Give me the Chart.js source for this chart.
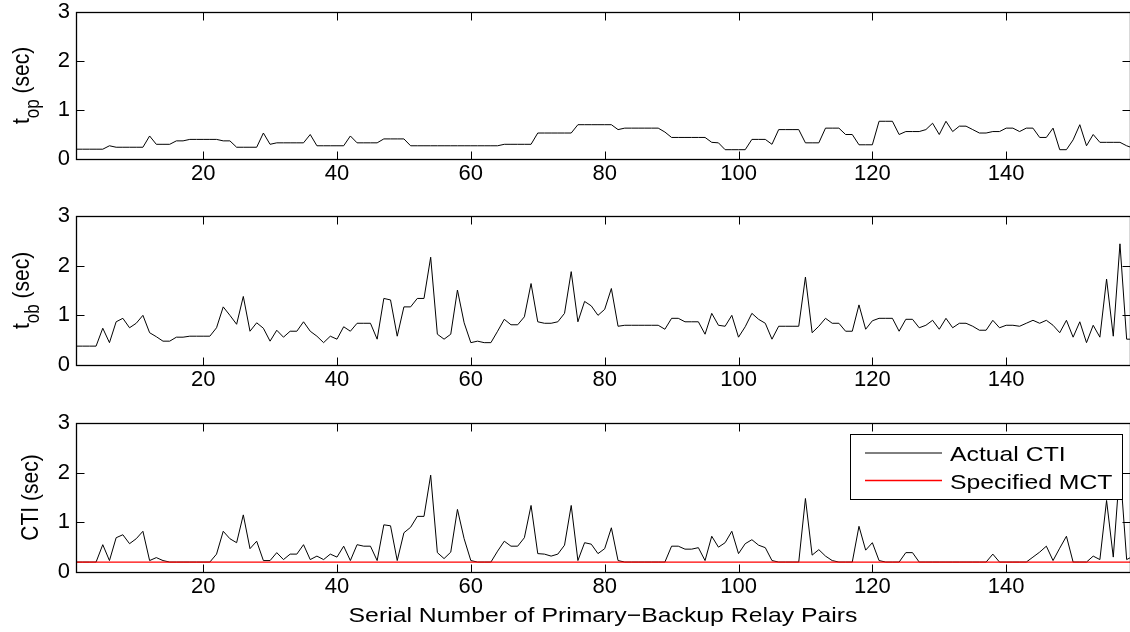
<!DOCTYPE html>
<html>
<head>
<meta charset="utf-8">
<script src="https://cdn.jsdelivr.net/npm/chart.js@4.4.0/dist/chart.umd.min.js"></script>
<style>
  html, body { margin: 0; padding: 0; background: #fff; overflow: hidden; }
  #wrap { position: relative; width: 1130px; height: 632px; overflow: hidden; }
  canvas { position: absolute; left: 0; }
</style>
</head>
<body>
<div id="wrap">
  <canvas id="cOp" width="1132" height="200" style="top:0px"></canvas>
  <canvas id="cOb" width="1132" height="205" style="top:200px"></canvas>
  <canvas id="cCti" width="1132" height="222" style="top:410px"></canvas>
</div>
<script>
// tick labels
const xTicks = [20, 40, 60, 80, 100, 120, 140];
const yTicks = [0, 1, 2, 3];

// operating time of primary relays (sec), pair 1..159
const tOp = [
  0.2, 0.2, 0.2, 0.2, 0.2, 0.27, 0.24, 0.24, 0.24, 0.24,
  0.24, 0.47, 0.3, 0.3, 0.3, 0.37, 0.37, 0.4, 0.4, 0.4,
  0.4, 0.4, 0.37, 0.37, 0.24, 0.24, 0.24, 0.24, 0.53, 0.3,
  0.33, 0.33, 0.33, 0.33, 0.33, 0.5, 0.27, 0.27, 0.27, 0.27,
  0.27, 0.47, 0.33, 0.33, 0.33, 0.33, 0.41, 0.41, 0.41, 0.41,
  0.27, 0.27, 0.27, 0.27, 0.27, 0.27, 0.27, 0.27, 0.27, 0.27,
  0.27, 0.27, 0.27, 0.27, 0.3, 0.3, 0.3, 0.3, 0.3, 0.53,
  0.53, 0.53, 0.53, 0.53, 0.53, 0.7, 0.7, 0.7, 0.7, 0.7,
  0.7, 0.6, 0.63, 0.63, 0.63, 0.63, 0.63, 0.63, 0.55, 0.44,
  0.44, 0.44, 0.44, 0.44, 0.44, 0.34, 0.33, 0.19, 0.19, 0.19,
  0.19, 0.4, 0.4, 0.4, 0.3, 0.6, 0.6, 0.6, 0.6, 0.33,
  0.33, 0.33, 0.63, 0.63, 0.63, 0.5, 0.5, 0.29, 0.29, 0.29,
  0.77, 0.77, 0.77, 0.5, 0.56, 0.56, 0.56, 0.6, 0.73, 0.5,
  0.77, 0.56, 0.67, 0.67, 0.6, 0.53, 0.53, 0.56, 0.56, 0.63,
  0.63, 0.56, 0.63, 0.63, 0.44, 0.44, 0.63, 0.19, 0.19, 0.39,
  0.7, 0.27, 0.5, 0.34, 0.34, 0.34, 0.34, 0.27, 0.22
];

// operating time of backup relays (sec)
const tOb = [
  0.38, 0.38, 0.38, 0.38, 0.74, 0.45, 0.87, 0.94, 0.75, 0.84,
  1.0, 0.65, 0.57, 0.48, 0.48, 0.56, 0.56, 0.58, 0.58, 0.58,
  0.58, 0.75, 1.17, 1.0, 0.82, 1.38, 0.68, 0.85, 0.74, 0.48,
  0.7, 0.56, 0.68, 0.68, 0.87, 0.68, 0.58, 0.45, 0.58, 0.52,
  0.77, 0.68, 0.84, 0.84, 0.84, 0.52, 1.34, 1.31, 0.58, 1.17,
  1.17, 1.34, 1.34, 2.17, 0.62, 0.52, 0.62, 1.51, 0.85, 0.45,
  0.48, 0.45, 0.45, 0.68, 0.92, 0.81, 0.81, 0.97, 1.64, 0.87,
  0.84, 0.84, 0.87, 1.04, 1.88, 0.87, 1.28, 1.19, 1.0, 1.12,
  1.54, 0.78, 0.8, 0.8, 0.8, 0.8, 0.8, 0.8, 0.72, 0.94,
  0.94, 0.87, 0.87, 0.87, 0.62, 1.04, 0.8, 0.78, 1.0, 0.56,
  0.77, 1.04, 0.92, 0.84, 0.52, 0.78, 0.78, 0.78, 0.78, 1.77,
  0.65, 0.78, 0.94, 0.84, 0.84, 0.68, 0.68, 1.21, 0.72, 0.89,
  0.94, 0.94, 0.94, 0.68, 0.92, 0.92, 0.75, 0.8, 0.9, 0.72,
  0.94, 0.75, 0.84, 0.84, 0.78, 0.7, 0.7, 0.9, 0.75, 0.8,
  0.8, 0.78, 0.84, 0.9, 0.84, 0.9, 0.8, 0.65, 0.9, 0.56,
  0.87, 0.45, 0.8, 0.56, 1.73, 0.58, 2.44, 0.52, 0.52
];

// coordination time interval (sec)
const cti = [
  0.2, 0.2, 0.2, 0.2, 0.55, 0.23, 0.69, 0.75, 0.57, 0.67,
  0.82, 0.23, 0.29, 0.23, 0.2, 0.2, 0.2, 0.2, 0.2, 0.2,
  0.2, 0.36, 0.82, 0.67, 0.59, 1.15, 0.47, 0.62, 0.23, 0.23,
  0.39, 0.25, 0.36, 0.36, 0.55, 0.25, 0.32, 0.25, 0.36, 0.3,
  0.52, 0.23, 0.55, 0.52, 0.52, 0.23, 0.95, 0.93, 0.23, 0.79,
  0.9, 1.12, 1.12, 1.95, 0.39, 0.27, 0.4, 1.26, 0.67, 0.23,
  0.2, 0.2, 0.2, 0.42, 0.62, 0.52, 0.52, 0.69, 1.34, 0.37,
  0.36, 0.32, 0.36, 0.54, 1.34, 0.23, 0.59, 0.56, 0.37, 0.47,
  0.89, 0.23, 0.2, 0.2, 0.2, 0.2, 0.2, 0.2, 0.2, 0.52,
  0.52, 0.46, 0.46, 0.49, 0.23, 0.72, 0.5, 0.59, 0.82, 0.37,
  0.57, 0.65, 0.54, 0.49, 0.23, 0.2, 0.2, 0.2, 0.2, 1.48,
  0.34, 0.45, 0.32, 0.23, 0.2, 0.2, 0.2, 0.92, 0.44, 0.59,
  0.23, 0.2, 0.2, 0.2, 0.39, 0.39, 0.2, 0.2, 0.2, 0.2,
  0.2, 0.2, 0.2, 0.2, 0.2, 0.2, 0.2, 0.36, 0.2, 0.2,
  0.2, 0.2, 0.2, 0.3, 0.4, 0.52, 0.23, 0.48, 0.72, 0.2,
  0.2, 0.2, 0.32, 0.25, 1.44, 0.3, 2.12, 0.25, 0.32
];

const mct = 0.2; // specified minimum coordination time

const FONT = "'Liberation Sans', Arial, Helvetica, sans-serif";
const X_MIN = 1, X_MAX = 158.5;
const STRETCH = 1.18; // the original export is a bit wide

const toPoints = arr => arr.map((v, i) => ({ x: i + 1, y: v }));

// matlab style box with inward ticks on all four sides
const matlabAxes = {
  id: 'matlabAxes',
  afterDatasetsDraw(chart) {
    const { ctx, chartArea: a, scales } = chart;
    const L = Math.round(a.left) + 0.5, R = Math.round(a.right) + 0.5;
    const T = Math.round(a.top) + 0.5, B = Math.round(a.bottom) + 0.5;
    ctx.save();
    ctx.strokeStyle = '#000';
    ctx.lineWidth = 1;
    ctx.beginPath();
    scales.x.ticks.forEach(t => {
      const px = Math.round(scales.x.getPixelForValue(t.value)) + 0.5;
      ctx.moveTo(px, B); ctx.lineTo(px, B - 8);
      ctx.moveTo(px, T); ctx.lineTo(px, T + 8);
    });
    scales.y.ticks.forEach(t => {
      const py = Math.round(scales.y.getPixelForValue(t.value)) + 0.5;
      ctx.moveTo(L, py); ctx.lineTo(L + 8, py);
      ctx.moveTo(R, py); ctx.lineTo(R - 8, py);
    });
    ctx.stroke();
    ctx.lineWidth = 1.3;
    ctx.strokeRect(L, T, R - L, B - T);
    ctx.restore();
  }
};

// rotated y label, optional subscript
const yTitle = {
  id: 'yTitle',
  afterDraw(chart, args, opts) {
    if (!opts || !opts.main) return;
    const { ctx, chartArea: a } = chart;
    const big = '21px ' + FONT, small = '17px ' + FONT;
    ctx.save();
    ctx.translate(opts.baseX, (a.top + a.bottom) / 2);
    ctx.scale(1.15, 1);
    ctx.rotate(-Math.PI / 2);
    ctx.fillStyle = '#000';
    ctx.textBaseline = 'alphabetic';
    ctx.font = big;
    const w1 = ctx.measureText(opts.main).width;
    const w3 = ctx.measureText(opts.rest).width;
    ctx.font = small;
    const w2 = opts.sub ? ctx.measureText(opts.sub).width : 0;
    let x = -(w1 + w2 + w3) / 2;
    ctx.font = big;
    ctx.fillText(opts.main, x, 0);
    x += w1;
    if (opts.sub) {
      ctx.font = small;
      ctx.fillText(opts.sub, x, 8.5);
      x += w2;
    }
    ctx.font = big;
    ctx.fillText(opts.rest, x, 0);
    ctx.restore();
  }
};

// x label under the last axes
const xTitle = {
  id: 'xTitle',
  afterDraw(chart, args, opts) {
    if (!opts || !opts.text) return;
    const { ctx, chartArea: a } = chart;
    ctx.save();
    ctx.translate((a.left + a.right) / 2, opts.baseY);
    ctx.scale(STRETCH, 1);
    ctx.font = '21px ' + FONT;
    ctx.fillStyle = '#000';
    ctx.textAlign = 'center';
    ctx.textBaseline = 'alphabetic';
    ctx.fillText(opts.text, 0, 0);
    ctx.restore();
  }
};

// boxed legend in the upper right corner
const boxLegend = {
  id: 'boxLegend',
  afterDraw(chart, args, opts) {
    if (!opts || !opts.show) return;
    const { ctx, chartArea: a } = chart;
    const w = 272, h = 65;
    const left = Math.round(a.right - 280), top = Math.round(a.top + 11);
    ctx.save();
    ctx.fillStyle = '#fff';
    ctx.fillRect(left, top, w, h);
    ctx.strokeStyle = '#000';
    ctx.lineWidth = 1;
    ctx.strokeRect(left + 0.5, top + 0.5, w, h);
    chart.data.datasets.forEach((ds, i) => {
      const y = top + 19 + i * 27.5;
      ctx.strokeStyle = ds.borderColor;
      ctx.lineWidth = ds.borderWidth;
      ctx.beginPath();
      ctx.moveTo(left + 15, y);
      ctx.lineTo(left + 92, y);
      ctx.stroke();
      ctx.save();
      ctx.translate(left + 100, y + 8);
      ctx.scale(STRETCH, 1);
      ctx.font = '21px ' + FONT;
      ctx.fillStyle = '#000';
      ctx.fillText(ds.label, 0, 0);
      ctx.restore();
    });
    ctx.restore();
  }
};

function makeOptions(padTop, xAxisHeight, extra) {
  const noGrid = { display: false, drawTicks: false, tickLength: 0 };
  return {
    responsive: false,
    animation: false,
    events: [],
    layout: { padding: { top: padTop, right: 2, left: 0, bottom: 0 } },
    plugins: Object.assign({ legend: { display: false }, tooltip: { enabled: false } }, extra),
    scales: {
      x: {
        type: 'linear',
        min: X_MIN,
        max: X_MAX,
        grid: noGrid,
        border: { display: false },
        afterBuildTicks: s => { s.ticks = xTicks.map(v => ({ value: v })); },
        afterFit: s => { s.height = xAxisHeight; s.paddingLeft = 0; s.paddingRight = 0; },
        ticks: { color: '#000', font: { family: FONT, size: 22 }, padding: 2, maxRotation: 0, autoSkip: false }
      },
      y: {
        min: 0,
        max: 3,
        grid: noGrid,
        border: { display: false },
        afterBuildTicks: s => { s.ticks = yTicks.map(v => ({ value: v })); },
        afterFit: s => { s.width = 76; s.paddingTop = 0; s.paddingBottom = 0; },
        ticks: { color: '#000', font: { family: FONT, size: 22 }, padding: 6 }
      }
    }
  };
}

const lineStyle = { borderColor: '#000', borderWidth: 1, pointRadius: 0, tension: 0, fill: false };

new Chart(document.getElementById('cOp'), {
  type: 'line',
  data: { datasets: [Object.assign({ label: 't_op', data: toPoints(tOp) }, lineStyle)] },
  options: makeOptions(12, 41, { yTitle: { main: 't', sub: 'op', rest: ' (sec)', baseX: 29 } }),
  plugins: [matlabAxes, yTitle]
});

new Chart(document.getElementById('cOb'), {
  type: 'line',
  data: { datasets: [Object.assign({ label: 't_ob', data: toPoints(tOb) }, lineStyle)] },
  options: makeOptions(16, 40, { yTitle: { main: 't', sub: 'ob', rest: ' (sec)', baseX: 29 } }),
  plugins: [matlabAxes, yTitle]
});

new Chart(document.getElementById('cCti'), {
  type: 'line',
  data: {
    datasets: [
      Object.assign({ label: 'Actual CTI', data: toPoints(cti) }, lineStyle),
      {
        label: 'Specified MCT',
        data: [{ x: 1, y: mct }, { x: cti.length, y: mct }],
        borderColor: '#ff0000',
        borderWidth: 1.3,
        pointRadius: 0,
        tension: 0,
        order: -1
      }
    ]
  },
  options: makeOptions(13, 60, {
    yTitle: { main: 'CTI', sub: '', rest: ' (sec)', baseX: 38 },
    xTitle: { text: 'Serial Number of Primary\u2212Backup Relay Pairs', baseY: 212 },
    boxLegend: { show: true }
  }),
  plugins: [matlabAxes, yTitle, xTitle, boxLegend]
});
</script>
</body>
</html>
